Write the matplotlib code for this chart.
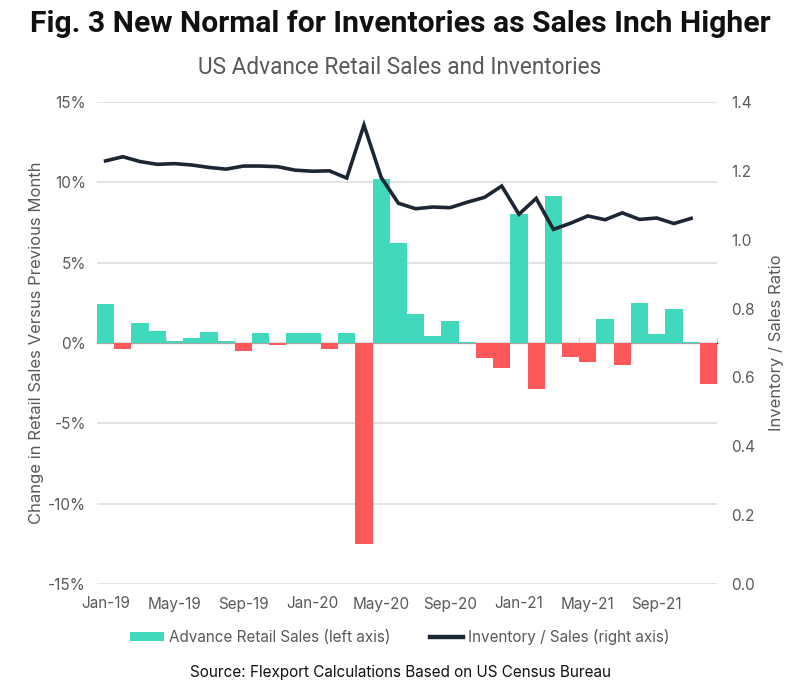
import matplotlib
matplotlib.use("Agg")
import matplotlib.pyplot as plt
import numpy as np
from matplotlib.patches import Patch
from matplotlib.lines import Line2D

months = ["Jan-19", "Feb-19", "Mar-19", "Apr-19", "May-19", "Jun-19", "Jul-19", "Aug-19",
          "Sep-19", "Oct-19", "Nov-19", "Dec-19", "Jan-20", "Feb-20", "Mar-20", "Apr-20",
          "May-20", "Jun-20", "Jul-20", "Aug-20", "Sep-20", "Oct-20", "Nov-20", "Dec-20",
          "Jan-21", "Feb-21", "Mar-21", "Apr-21", "May-21", "Jun-21", "Jul-21", "Aug-21",
          "Sep-21", "Oct-21", "Nov-21", "Dec-21"]

retail_sales_change = [2.4, -0.4, 1.25, 0.75, 0.1, 0.3, 0.7, 0.15,
                       -0.5, 0.6, -0.1, 0.6, 0.6, -0.4, 0.6, -12.5,
                       10.2, 6.2, 1.8, 0.45, 1.4, 0.05, -0.95, -1.55,
                       8.05, -2.85, 9.15, -0.85, -1.2, 1.5, -1.35, 2.5,
                       0.55, 2.1, 0.05, -2.55]

inventory_sales_ratio = [1.229, 1.241, 1.227, 1.219, 1.221, 1.217, 1.210, 1.205,
                         1.214, 1.214, 1.212, 1.202, 1.199, 1.200, 1.179, 1.333,
                         1.181, 1.106, 1.090, 1.095, 1.093, 1.109, 1.123, 1.156,
                         1.074, 1.120, 1.030, 1.048, 1.069, 1.058, 1.078, 1.059,
                         1.063, 1.047, 1.062, np.nan]

left_ticks = [-15, -10, -5, 0, 5, 10, 15]
right_ticks = [0.0, 0.2, 0.4, 0.6, 0.8, 1.0, 1.2, 1.4]

GREEN = "#40D9BC"
RED = "#FF585B"
LINE = "#1D2733"
GRID = "#DADADA"
TXT = "#595959"
FONT = "Inter"

fig = plt.figure(figsize=(8, 6.91), dpi=100)
ax = fig.add_axes([97 / 800, 1 - 584 / 691, 620 / 800, 482 / 691])

x = np.arange(len(months))
colors = [GREEN if v >= 0 else RED for v in retail_sales_change]
ax.bar(x, retail_sales_change, width=1.0, color=colors, zorder=2, linewidth=0)

ax.set_xlim(-0.5, len(months) - 0.5)
ax.set_ylim(-15, 15)
ax.set_yticks(left_ticks)
ax.set_yticklabels([f"{t}%" for t in left_ticks], fontsize=11, color=TXT, family=FONT)
ax.yaxis.grid(True, color=GRID, linewidth=1.1, zorder=0)
ax.set_axisbelow(True)
ax.tick_params(axis="y", length=0, pad=8)
ax.set_xticks(x[::4])
ax.set_xticklabels(months[::4], fontsize=11, color=TXT, family=FONT)
ax.tick_params(axis="x", length=0, pad=9)
for s in ["top", "right", "left", "bottom"]:
    ax.spines[s].set_visible(False)

# horizontal category axis at zero with tick marks between groups
sec = ax.secondary_xaxis(0.5)
sec.set_xticks(np.arange(-0.5, len(months), 4))
sec.tick_params(axis="x", length=4, color=GRID, width=1, labelbottom=False, labeltop=False)
sec.spines["bottom"].set_color(GRID)
sec.spines["bottom"].set_linewidth(1.1)

ax.set_ylabel("Change in Retail Sales Versus Previous Month", fontsize=12, color=TXT,
              family=FONT, labelpad=3)

ax2 = ax.twinx()
ax2.plot(x, inventory_sales_ratio, color=LINE, linewidth=2.6, solid_joinstyle="miter", zorder=3)
ax2.set_ylim(0, 1.4)
ax2.set_yticks(right_ticks)
ax2.set_yticklabels([f"{t:.1f}" for t in right_ticks], fontsize=11, color=TXT, family=FONT)
ax2.tick_params(axis="y", length=0, pad=10)
for s in ["top", "right", "left", "bottom"]:
    ax2.spines[s].set_visible(False)
ax2.set_ylabel("Inventory / Sales Ratio", fontsize=12, color=TXT, family=FONT,
               rotation=90, labelpad=10)

fig.text(0.5, 1 - 24 / 691, "Fig. 3 New Normal for Inventories as Sales Inch Higher",
         ha="center", va="center", fontsize=21.7, fontweight="bold", family="Roboto",
         color="#111111")
fig.text(0.5, 1 - 68 / 691, "US Advance Retail Sales and Inventories",
         ha="center", va="center", fontsize=16.3, family="Roboto", color=TXT)

handles = [Patch(facecolor=GREEN, edgecolor="none"),
           Line2D([0], [0], color=LINE, linewidth=3.2)]
leg = fig.legend(handles, ["Advance Retail Sales (left axis)", "Inventory / Sales (right axis)"],
                 loc="center", bbox_to_anchor=(0.5, 1 - 637 / 691), ncol=2, frameon=False,
                 prop={"family": FONT, "size": 11}, handlelength=2.2, handleheight=0.5,
                 handletextpad=0.3, columnspacing=2.6)
for t in leg.get_texts():
    t.set_color(TXT)

fig.text(0.5, 1 - 673 / 691, "Source: Flexport Calculations Based on US Census Bureau",
         ha="center", va="center", fontsize=11, family=FONT, color="#111111")

fig.savefig("out.png", dpi=100, facecolor="white")
